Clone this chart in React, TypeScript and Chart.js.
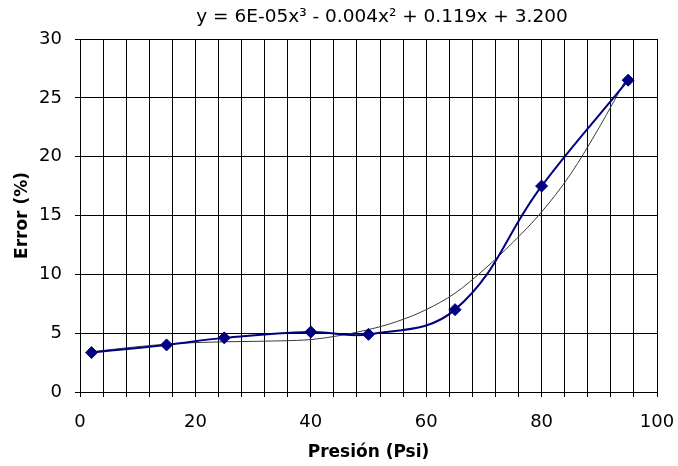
import React, { useEffect, useRef } from "react";
import { Chart, registerables } from "chart.js";

Chart.register(...registerables);

const titleText = "y = 6E-05x³ - 0.004x² + 0.119x + 3.200";
const xTitle = "Presión (Psi)";
const yTitle = "Error (%)";

const pressure = [2, 15, 25, 40, 50, 65, 80, 95];
const errorPct = [3.35, 4.0, 4.6, 5.1, 4.9, 7.0, 17.5, 26.5];

const trendX = [2, 8, 15, 20, 25, 30, 35, 40, 45, 50, 55, 60, 65, 70, 75, 80, 85, 90, 95];
const trendY = [3.42, 3.75, 4.07, 4.2, 4.27, 4.3, 4.35, 4.45, 4.8, 5.3, 6.0, 7.0, 8.4, 10.4, 12.7, 15.3, 18.5, 22.5, 26.9];

const xLabelTicks = [0, 20, 40, 60, 80, 100];

const FONT = '"DejaVu Sans", sans-serif';

const titlePlugin = {
  id: "fixedTitle",
  afterDraw(chart: any) {
    const ctx = chart.ctx;
    ctx.save();
    ctx.font = `18.5px ${FONT}`;
    ctx.fillStyle = "#000";
    ctx.textAlign = "center";
    ctx.textBaseline = "middle";
    ctx.fillText(titleText, 382, 17);
    ctx.restore();
  },
};

export default function App() {
  const ref = useRef<HTMLCanvasElement | null>(null);

  useEffect(() => {
    if (!ref.current) return;
    const chart = new Chart(ref.current, {
      type: "line",
      data: {
        datasets: [
          {
            label: "Trend",
            data: trendX.map((x, i) => ({ x, y: trendY[i] })),
            borderColor: "#3a3a3a",
            borderWidth: 1,
            pointRadius: 0,
            cubicInterpolationMode: "monotone",
            fill: false,
            order: 2,
          },
          {
            label: "Error",
            data: pressure.map((x, i) => ({ x, y: errorPct[i] })),
            borderColor: "#000080",
            backgroundColor: "#000080",
            borderWidth: 2,
            pointStyle: "rectRot",
            pointRadius: 6,
            pointBorderWidth: 1,
            tension: 0.4,
            fill: false,
            order: 1,
          },
        ],
      },
      options: {
        animation: false,
        responsive: true,
        maintainAspectRatio: false,
        layout: { padding: { top: 39, right: 21, left: 0, bottom: 0 } },
        plugins: {
          legend: { display: false },
          tooltip: { enabled: false },
          title: { display: false },
        },
        scales: {
          x: {
            type: "linear",
            min: 0,
            max: 100,
            afterFit: (s: any) => {
              s.height = 74;
              s.paddingLeft = 0;
              s.paddingRight = 0;
            },
            ticks: {
              stepSize: 4,
              autoSkip: false,
              maxRotation: 0,
              padding: 15,
              color: "#000",
              font: { family: FONT, size: 18 },
              callback: (v: any) => {
                const n = Math.round(Number(v));
                return xLabelTicks.includes(n) ? String(n) : "";
              },
            },
            grid: { color: "#000", lineWidth: 1, tickLength: 5 },
            border: { color: "#000", width: 1 },
            title: {
              display: true,
              text: xTitle,
              color: "#000",
              font: { family: FONT, size: 17, weight: "bold" },
              padding: 3,
            },
          },
          y: {
            min: 0,
            max: 30,
            afterFit: (s: any) => {
              s.width = 80;
              s.paddingTop = 0;
              s.paddingBottom = 0;
            },
            ticks: {
              stepSize: 5,
              padding: 13,
              color: "#000",
              font: { family: FONT, size: 18 },
            },
            grid: { color: "#000", lineWidth: 1, tickLength: 5 },
            border: { color: "#000", width: 1 },
            title: {
              display: true,
              text: yTitle,
              color: "#000",
              font: { family: FONT, size: 17, weight: "bold" },
              padding: 12,
            },
          },
        },
      },
      plugins: [titlePlugin],
    });
    return () => chart.destroy();
  }, []);

  return (
    <div style={{ position: "fixed", left: 0, top: 0, width: 678, height: 466, background: "#fff" }}>
      <canvas ref={ref} />
    </div>
  );
}
